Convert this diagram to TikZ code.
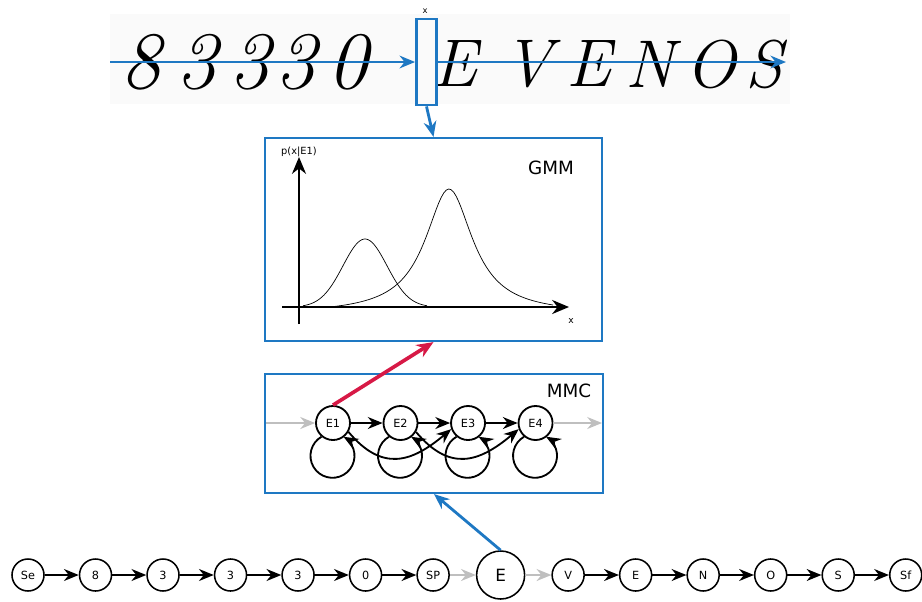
\documentclass[tikz,border=0pt]{standalone}
\usepackage{fontspec}
\setsansfont{DejaVu Sans}
\usetikzlibrary{arrows.meta}
\definecolor{lineblue}{RGB}{30,120,195}
\definecolor{linered}{RGB}{215,25,70}
\tikzstyle{bluebox} = [
    rectangle,
    draw=lineblue,
    line width=1.5pt,
    inner sep=0pt
]
\tikzstyle{mstate} = [
    circle,
    draw=black,
    line width=1.3pt,
    minimum size=0.85cm,
    inner sep=0pt,
    font=\sffamily\fontsize{8}{9}\selectfont
]
\tikzstyle{wnode} = [
    circle,
    draw=black,
    line width=1.1pt,
    minimum size=0.8cm,
    inner sep=0pt,
    font=\sffamily\fontsize{8}{9}\selectfont
]
\tikzstyle{bignode} = [
    wnode,
    minimum size=1.2cm,
    font=\sffamily\fontsize{12}{13}\selectfont
]
\tikzstyle{hand} = [inner sep=0pt, font=\itshape\fontsize{58}{58}\selectfont]
\tikzstyle{handsmall} = [inner sep=0pt, font=\itshape\fontsize{48}{48}\selectfont]
\tikzstyle{arrow} = [line width=1.3pt,-{Stealth[length=10.5pt,width=8.5pt]}]
\tikzstyle{grayarrow} = [arrow, color=black!25]
\tikzstyle{bluearrow} = [line width=2pt,-{Stealth[length=11pt,width=9pt]}, color=lineblue]
\tikzstyle{redarrow} = [line width=2.6pt,-{Stealth[length=12pt,width=10pt]}, color=linered]
\tikzstyle{axis} = [line width=1.4pt,-{Stealth[length=12pt,width=10pt]}]

\begin{document}
\begin{tikzpicture}[x=0.025cm, y=-0.025cm, node distance=1.6875cm]
\path[use as bounding box] (0,0) rectangle (922,601);

% handwritten word
\fill[black!2] (110,14) rectangle (790,104);
\foreach \ch/\px [count=\i] in {8/141, 3/197, 3/250, 3/296, 0/348}
    \node (hd\i) [hand] at (\px,62) {\ch};
\foreach \ch/\px [count=\i] in {E/455, V/528, E/589, N/650, O/711, S/764}
    \node (hl\i) [handsmall] at (\px,64) {\ch};

\node (win) [bluebox, line width=2pt, minimum width=0.5cm, minimum height=2.15cm] at (426.5,62) {};
\node (winlab) [font=\sffamily\fontsize{6}{7}\selectfont] at (425,11) {x};
\coordinate (hwstart) at (110,62);
\coordinate (hwend) at (786,62);
\draw [bluearrow] (hwstart) -- (win.west);
\draw [bluearrow] (win.east) -- (hwend);

% GMM
\node (gmm) [bluebox, minimum width=8.425cm, minimum height=5.075cm] at (433.5,239.5) {};
\node (gmmlab) [font=\sffamily\fontsize{13}{15}\selectfont] at (551,168) {GMM};
\coordinate (xa0) at (282,307);
\coordinate (xa1) at (569,307);
\coordinate (ya0) at (299,324);
\coordinate (ya1) at (299,157);
\draw [axis] (xa0) -- (xa1);
\draw [axis] (ya0) -- (ya1);
\node (ylab) [font=\sffamily\fontsize{7}{8}\selectfont] at (299,152) {p(x|E1)};
\node (xlab) [font=\sffamily\fontsize{6.5}{7}\selectfont] at (571,321) {x};
\draw [line width=0.5pt] plot[domain=303:427, samples=60] (\x, {307-68*exp(-((\x-365)^2)/968)});
\draw [line width=0.5pt] plot[domain=332:553, samples=90] (\x, {314-125/(1+((\x-449)/29)^2)});

% MMC
\node (mmc) [bluebox, minimum width=8.45cm, minimum height=2.975cm] at (434,433.5) {};
\node (mmclab) [font=\sffamily\fontsize{13}{15}\selectfont] at (569,391) {MMC};

\node (e1) [mstate] at (333,423) {E1};
\node (e2) [mstate, right of=e1] {E2};
\node (e3) [mstate, right of=e2] {E3};
\node (e4) [mstate, right of=e3] {E4};

\coordinate (mmcin) at (266,423);
\coordinate (mmcout) at (602,423);
\draw [grayarrow] (mmcin) -- (e1);
\draw [grayarrow] (e4) -- (mmcout);
\draw [arrow] (e1) -- (e2);
\draw [arrow] (e2) -- (e3);
\draw [arrow] (e3) -- (e4);
\draw [arrow] (e1.-30) to[out=-50, in=-140, looseness=1.3] (e3.-160);
\draw [arrow] (e2.-30) to[out=-50, in=-140, looseness=1.3] (e4.-160);
% self loops
\foreach \s in {e1,e2,e3,e4}
    \draw [arrow] (\s.-130) arc[start angle=120, end angle=420, radius=0.55cm];

% word model
\node (se) [wnode] at (28,575) {Se};
\node (c8) [wnode, right of=se] {8};
\node (c3a) [wnode, right of=c8] {3};
\node (c3b) [wnode, right of=c3a] {3};
\node (c3c) [wnode, right of=c3b] {3};
\node (c0) [wnode, right of=c3c] {0};
\node (sp) [wnode, right of=c0] {SP};
\node (le) [bignode, right of=sp] {E};
\node (lv) [wnode, right of=le] {V};
\node (le2) [wnode, right of=lv] {E};
\node (ln) [wnode, right of=le2] {N};
\node (lo) [wnode, right of=ln] {O};
\node (ls) [wnode, right of=lo] {S};
\node (sf) [wnode, right of=ls] {Sf};

\draw [arrow] (se) -- (c8);
\draw [arrow] (c8) -- (c3a);
\draw [arrow] (c3a) -- (c3b);
\draw [arrow] (c3b) -- (c3c);
\draw [arrow] (c3c) -- (c0);
\draw [arrow] (c0) -- (sp);
\draw [grayarrow] (sp) -- (le);
\draw [grayarrow] (le) -- (lv);
\draw [arrow] (lv) -- (le2);
\draw [arrow] (le2) -- (ln);
\draw [arrow] (ln) -- (lo);
\draw [arrow] (lo) -- (ls);
\draw [arrow] (ls) -- (sf);

% links between levels
\draw [bluearrow] (win.south) -- (gmm.north);
\draw [redarrow] (e1.north) -- (gmm.south);
\draw [bluearrow] (le.north) -- (mmc.south);

\end{tikzpicture}
\end{document}
